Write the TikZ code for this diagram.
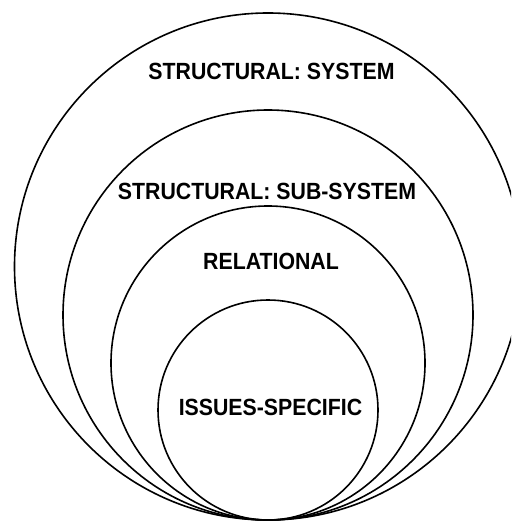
\documentclass[tikz,border=0pt]{standalone}
\usepackage{fontspec}
\setmainfont{Liberation Sans}
\newcommand{\tallbox}[1]{\scalebox{1}[1.1]{#1}}
\begin{document}
\begin{tikzpicture}[x=1pt,y=-1pt,
  ring/.style={draw=black,line width=1.6pt},
  lbl/.style={font=\fontsize{21.3}{24}\selectfont\bfseries,inner sep=0pt,anchor=center}]
\useasboundingbox (0,0) rectangle (511,521);
\clip (0,0) rectangle (511,521);
\draw[ring] (268,266.5) circle[radius=253.5];
\draw[ring] (268,315) circle[radius=205];
\draw[ring] (268,363) circle[radius=157];
\draw[ring] (268,410) circle[radius=110];
\node[lbl] (sys) at (271.5,71) {\tallbox{STRUCTURAL: SYSTEM}};
\node[lbl] (sub) at (267,191.5) {\tallbox{STRUCTURAL: SUB-SYSTEM}};
\node[lbl] (rel) at (271,261) {\tallbox{RELATIONAL}};
\node[lbl] (iss) at (270.5,407.5) {\tallbox{ISSUES-SPECIFIC}};
\end{tikzpicture}
\end{document}
